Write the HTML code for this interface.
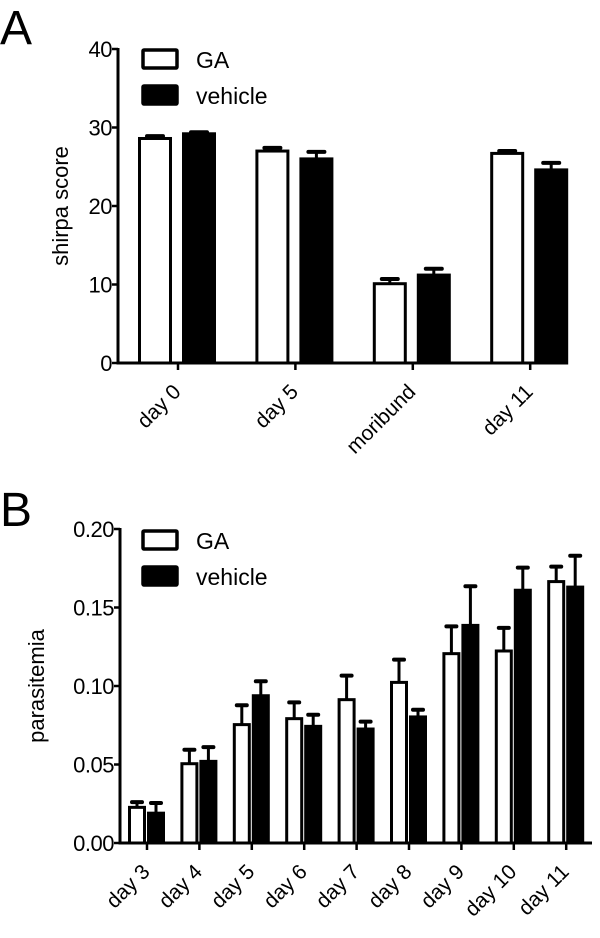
<!DOCTYPE html>
<html><head><meta charset="utf-8"><style>
body{margin:0;background:#fff}
svg text{font-family:"Liberation Sans",Arial,sans-serif;fill:#000}
</style></head><body>
<svg id="c" width="600" height="933">
<text x="0" y="44" font-size="48">A</text>
<text x="0" y="526" font-size="48">B</text>
</svg>
<script>
const catsA=["day 0","day 5","moribund","day 11"];
const gaA=[28.6,27.0,10.1,26.7];
const gaAErr=[0.3,0.4,0.6,0.3];
const vehA=[29.2,26.0,11.2,24.6];
const vehAErr=[0.2,0.9,0.8,0.9];
const ticksA=[0,10,20,30,40];

const catsB=["day 3","day 4","day 5","day 6","day 7","day 8","day 9","day 10","day 11"];
const gaB=[0.0227,0.0505,0.0754,0.0792,0.0913,0.1023,0.1206,0.1223,0.1665];
const gaBErr=[0.0033,0.0089,0.0123,0.0104,0.0153,0.0145,0.0174,0.0147,0.0095];
const vehB=[0.019,0.052,0.0938,0.0743,0.0726,0.0803,0.1386,0.161,0.163];
const vehBErr=[0.0065,0.0091,0.0092,0.0074,0.0047,0.0046,0.0249,0.0144,0.02];
const ticksB=["0.00","0.05","0.10","0.15","0.20"];

const svg=document.getElementById('c');
const NS="http://www.w3.org/2000/svg";
function mk(t,a,name,parent){const e=document.createElementNS(NS,t);for(const k in a)e.setAttribute(k,a[k]);


(parent||svg).appendChild(e);return e;}

function panel(p){
  const g=mk('g',{},p.name);
  const y=v=>p.y0-(v/p.max)*(p.y0-p.yTop);
  const x=i=>p.x1+p.first+i*p.step;
  mk('line',{x1:p.ax,y1:p.yTop-1,x2:p.ax,y2:p.y0+1.5,stroke:'#000','stroke-width':3},'y-axis',g);
  mk('line',{x1:p.ax-1.5,y1:p.y0,x2:p.xEnd,y2:p.y0,stroke:'#000','stroke-width':3},'x-axis',g);
  p.ticks.forEach(t=>{const v=parseFloat(t);const yy=y(v);
    mk('line',{x1:p.ax-6,y1:yy,x2:p.ax,y2:yy,stroke:'#000','stroke-width':2.5},'y-tick',g);
    const tx=mk('text',{x:p.ax-6,y:yy+8,'font-size':22,'text-anchor':'end','letter-spacing':-0.5},'y-tick-label',g);tx.textContent=t;});
  const yl=mk('text',{x:0,y:0,'font-size':22,'text-anchor':'middle',transform:`translate(${p.ylx},${(p.y0+p.yTop)/2}) rotate(-90)`},'y-axis-title',g);yl.textContent=p.ytitle;
  p.cats.forEach((c,i)=>{const cx=x(i);
    mk('line',{x1:cx,y1:p.y0,x2:cx,y2:p.y0+7,stroke:'#000','stroke-width':2.5},'x-tick',g);
    const t=mk('text',{x:0,y:0,'font-size':21,'text-anchor':'end',transform:`translate(${cx+4},${p.y0+30}) rotate(-45)`},'x-tick-label',g);t.textContent=c;
    [[p.ga,p.gaE,p.offG,'#fff','ga-bar'],[p.veh,p.vehE,p.offV,'#000','vehicle-bar']].forEach(([d,e,off,fill,nm])=>{
      const bx=cx+off-p.bw/2, top=y(d[i]), cap=y(d[i]+e[i]);
      mk('line',{x1:cx+off,y1:top,x2:cx+off,y2:cap,stroke:'#000','stroke-width':3},'error-bar',g);
      mk('line',{x1:cx+off-p.cw/2,y1:cap,x2:cx+off+p.cw/2,y2:cap,stroke:'#000','stroke-width':4,'stroke-linecap':'round'},'error-cap',g);
      mk('rect',{x:bx,y:top,width:p.bw,height:p.y0-top,fill:fill,stroke:'#000','stroke-width':3},nm,g);
    });
  });
  [['GA','#fff',p.leg],['vehicle','#000',p.leg+36]].forEach(([l,f,ly])=>{
    mk('rect',{x:143,y:ly,width:34,height:18,fill:f,stroke:'#000','stroke-width':3.5,rx:1},'legend-swatch',g);
    const t=mk('text',{x:196,y:ly+18,'font-size':23},'legend-label',g);t.textContent=l;});
}
panel({name:'panel-a-chart',cats:catsA,ga:gaA,gaE:gaAErr,veh:vehA,vehE:vehAErr,ticks:ticksA.map(String),
  max:40,y0:363,yTop:49,ax:118,x1:118,first:60,step:117.4,offG:-23,offV:21,bw:31,cw:16,xEnd:568,ylx:68,ytitle:'shirpa score',leg:50});
panel({name:'panel-b-chart',cats:catsB,ga:gaB,gaE:gaBErr,veh:vehB,vehE:vehBErr,ticks:ticksB,
  max:0.2,y0:843,yTop:529,ax:120,x1:120,first:27,step:52.4,offG:-10,offV:9,bw:15,cw:10,xEnd:592,ylx:44,ytitle:'parasitemia',leg:531});
</script>
</body></html>
